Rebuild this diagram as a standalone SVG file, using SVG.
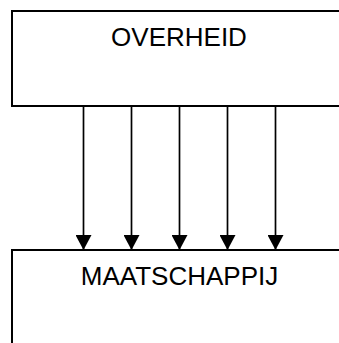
<svg xmlns="http://www.w3.org/2000/svg" width="339" height="343" viewBox="0 0 339 343">
  <style>
    .box { fill: #ffffff; stroke: #000000; stroke-width: 2; }
    .label { font-family: "Liberation Sans", Arial, sans-serif; font-size: 26px; fill: #000000; text-anchor: middle; }
    .flow { stroke: #000000; stroke-width: 1.7; fill: none; marker-end: url(#arrow); }
  </style>
  <defs>
    <!-- filled triangular arrowhead, tip on the line end -->
    <marker id="arrow" viewBox="0 0 15 16" refX="15" refY="8" markerWidth="15" markerHeight="16" markerUnits="userSpaceOnUse" orient="auto">
      <path d="M0,0 L15,8 L0,16 Z" fill="#000000"/>
    </marker>
  </defs>
  <rect width="339" height="343" fill="#ffffff"/>
  <g id="overheid">
    <rect class="box" x="12" y="11" width="340" height="95"/>
    <text class="label" x="179" y="46">OVERHEID</text>
  </g>
  <g id="maatschappij">
    <rect class="box" x="12" y="250" width="340" height="110"/>
    <text class="label" x="179.5" y="285">MAATSCHAPPIJ</text>
  </g>
  <g id="connectors">
    <line class="flow" x1="83.5" y1="107" x2="83.5" y2="250"/>
    <line class="flow" x1="131.5" y1="107" x2="131.5" y2="250"/>
    <line class="flow" x1="179.5" y1="107" x2="179.5" y2="250"/>
    <line class="flow" x1="227.5" y1="107" x2="227.5" y2="250"/>
    <line class="flow" x1="275.5" y1="107" x2="275.5" y2="250"/>
  </g>
</svg>
